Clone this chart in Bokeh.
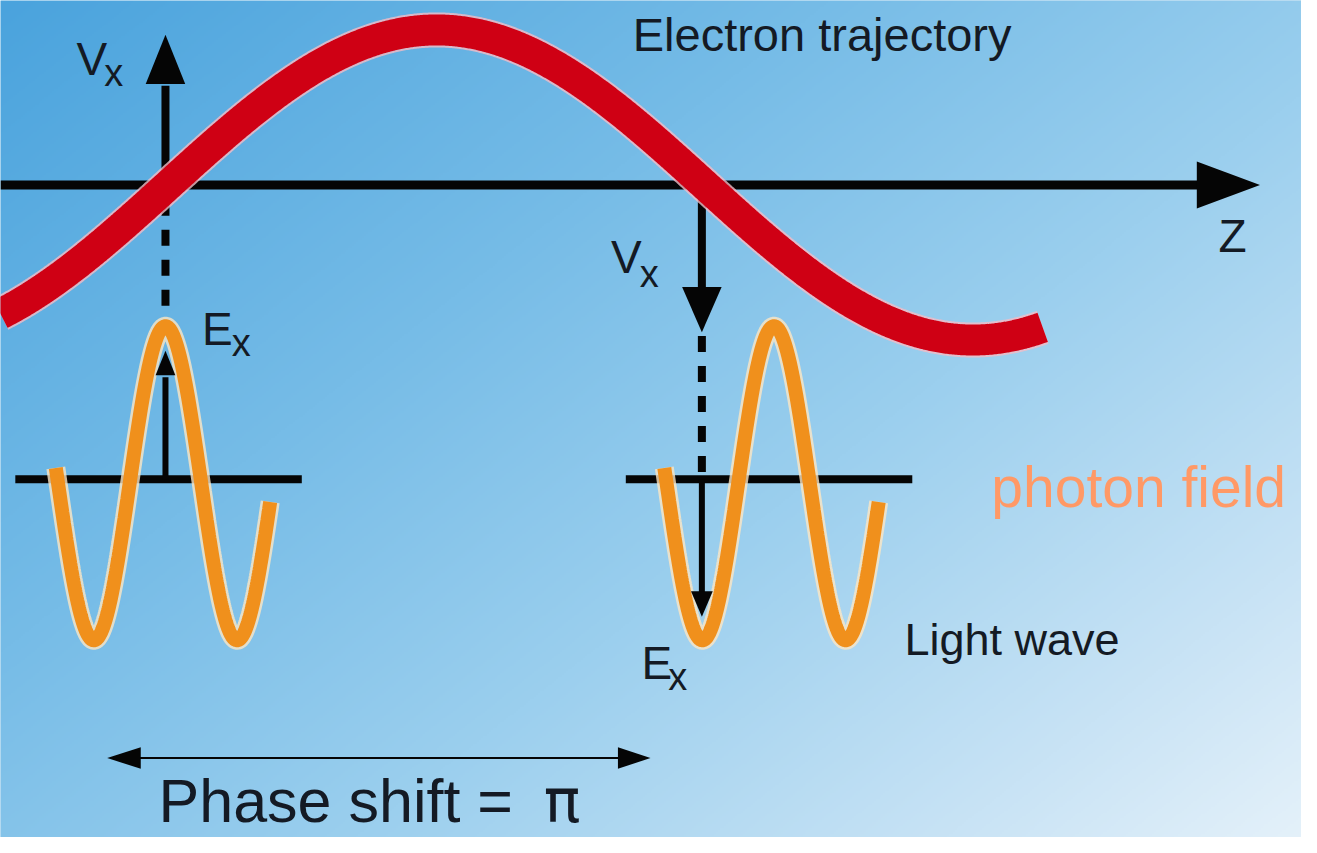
import numpy as np
from bokeh.plotting import figure
from bokeh.models import Range1d
from bokeh.core.properties import value
from bokeh.embed import file_html
from bokeh.resources import INLINE

# ---------------- data (reference pixel units) ----------------
# electron trajectory (red sine)
traj_x_limits = [0, 1055]
traj_zero_x = 170          # upward crossing of the z axis
traj_half_period = 543
traj_center_y = 188
traj_amplitude = 158

# light waves (orange)
wave_peak_x = [167, 783]
wave_center_y = 492
wave_amplitude = 160
wave_length = 145
wave_extent = [-111, 106]  # start / end relative to the peak

# axes lines
z_axis_y = 188
z_axis_x = [0, 1213]
small_axis_y = [488, 488]
small_axis_x0 = [15, 633]
small_axis_x1 = [305, 923]

# arrows: tip, direction, head length, head half-width
arrow_names = ["z", "vx_up", "vx_down", "ex_up", "ex_down", "phase_l", "phase_r"]
arrow_tip_x = [1275, 167, 710, 167, 710, 108, 658]
arrow_tip_y = [188, 35, 338, 357, 628, 772, 772]
arrow_dir = ["right", "up", "down", "up", "down", "left", "right"]
arrow_head_len = [64, 50, 46, 25, 26, 34, 33]
arrow_head_half = [24, 20, 20, 10, 11, 11, 11]

# arrow shafts
shaft_x0 = [167, 710, 167, 710, 140]
shaft_y0 = [188, 188, 488, 488, 772]
shaft_x1 = [167, 710, 167, 710, 627]
shaft_y1 = [87, 294, 384, 604, 772]
shaft_w = [8, 8, 6, 6, 2]

# dashed projection lines
dash_x = [167, 710]
dash_y0 = [203, 342]
dash_y1 = [318, 486]

# texts (x = left edge, y = baseline)
main_labels = ["Electron trajectory", "Z", "Light wave", "Phase shift ="]
main_x = [640, 1233, 915, 160]
main_y = [52, 257, 668, 838]
main_size = [47, 46, 45, 61]
pi_label, pi_x = "π", 550

sym_labels = ["V", "V", "E", "E"]
sym_x = [77, 618, 204, 649]
sym_y = [77, 278, 352, 692]
sub_labels = ["x", "x", "x", "x"]
sub_x = [105, 647, 234, 676]
sub_y = [88, 293, 363, 703]

extra_label = "photon field"
extra_x, extra_y = 1003, 517

# ---------------- figure ----------------
W, H = 1301, 837
X0, X1 = 0, 1317
Y0, Y1 = 0, 853

p = figure(width=W, height=H, x_range=Range1d(X0, X1), y_range=Range1d(Y1, Y0),
           output_backend="svg", toolbar_location=None, min_border=0,
           x_axis_location=None, y_axis_location=None)
p.grid.visible = False
p.outline_line_color = None
p.background_fill_color = "#8cc6ea"
p.border_fill_color = "#8cc6ea"

# background gradient
ny, nx = 427, 659
gx = np.linspace(X0, X1, nx)
gy = np.linspace(Y0, Y1, ny)
GX, GY = np.meshgrid(gx, gy)
t = 0.55 * GX / 1317 + 0.45 * GY / 853
stops_t = [0.0, 0.35, 0.6, 0.85, 1.0]
stops_c = [(74, 163, 221), (118, 188, 231), (155, 207, 238), (200, 227, 245), (228, 241, 250)]
img = np.empty((ny, nx), dtype=np.uint32)
view = img.view(dtype=np.uint8).reshape((ny, nx, 4))
for k in range(3):
    view[..., k] = np.interp(t, stops_t, [c[k] for c in stops_c]).astype(np.uint8)
view[..., 3] = 255
p.image_rgba(image=[img], x=X0, y=Y0, dw=X1 - X0, dh=Y1 - Y0)

# black axes
p.segment(x0=[z_axis_x[0]], y0=[z_axis_y], x1=[z_axis_x[1]], y1=[z_axis_y],
          line_color="#050505", line_width=9, line_cap="butt")
p.segment(x0=small_axis_x0, y0=small_axis_y, x1=small_axis_x1, y1=small_axis_y,
          line_color="#050505", line_width=8, line_cap="butt")

# arrow shafts (Vx and phase)
keep = [0, 1, 4]
p.segment(x0=[shaft_x0[i] for i in keep], y0=[shaft_y0[i] for i in keep],
          x1=[shaft_x1[i] for i in keep], y1=[shaft_y1[i] for i in keep],
          line_color="#050505", line_width=[shaft_w[i] for i in keep], line_cap="butt")

# dashed lines
for dx, a, b in zip(dash_x, dash_y0, dash_y1):
    p.line([dx, dx], [a, b], line_color="#050505", line_width=8,
           line_dash="16 14", line_cap="butt")

# arrow heads
def head(tx, ty, d, L, h):
    if d == "right":
        return [tx, tx - L, tx - L], [ty, ty - h, ty + h]
    if d == "left":
        return [tx, tx + L, tx + L], [ty, ty - h, ty + h]
    if d == "up":
        return [tx, tx - h, tx + h], [ty, ty + L, ty + L]
    return [tx, tx - h, tx + h], [ty, ty - L, ty - L]

hx, hy = [], []
for tx, ty, d, L, h in zip(arrow_tip_x, arrow_tip_y, arrow_dir, arrow_head_len, arrow_head_half):
    a, b = head(tx, ty, d, L, h)
    hx.append(a)
    hy.append(b)
big = [i for i, n in enumerate(arrow_names) if not n.startswith("ex")]
p.patches([hx[i] for i in big], [hy[i] for i in big], fill_color="#050505", line_color=None)

# orange light waves
for px in wave_peak_x:
    wx = np.linspace(px + wave_extent[0], px + wave_extent[1], 400)
    wy = wave_center_y - wave_amplitude * np.cos(2 * np.pi * (wx - px) / wave_length)
    p.line(wx, wy, line_color="#fbe6c4", line_width=19, line_alpha=0.8, line_cap="butt")
    p.line(wx, wy, line_color="#f0901c", line_width=14, line_cap="butt")

# Ex arrows on top of the waves
ex = [i for i, n in enumerate(arrow_names) if n.startswith("ex")]
p.segment(x0=shaft_x0[2:4], y0=shaft_y0[2:4], x1=shaft_x1[2:4], y1=shaft_y1[2:4],
          line_color="#050505", line_width=6, line_cap="butt")
p.patches([hx[i] for i in ex], [hy[i] for i in ex], fill_color="#050505", line_color=None)

# electron trajectory
tx_ = np.linspace(traj_x_limits[0], traj_x_limits[1], 800)
ty_ = traj_center_y - traj_amplitude * np.sin(np.pi * (tx_ - traj_zero_x) / traj_half_period)
p.line(tx_, ty_, line_color="#f4bcc6", line_width=35, line_alpha=0.8, line_cap="butt")
p.line(tx_, ty_, line_color="#cf0014", line_width=31, line_cap="butt")

# texts
dark = "#141a24"
SHIFT = 0.36  # baseline correction, fraction of font size


def label(x, y, s, size, color=dark, fam="Liberation Sans"):
    p.text(x=[x], y=[y], text=[s], text_font=value(fam), text_font_size=f"{size}px",
           text_color=color, text_align="left", text_baseline="alphabetic",
           y_offset=-SHIFT * size)


for s, x, y, sz in zip(main_labels, main_x, main_y, main_size):
    label(x, y, s, sz)
label(pi_x, main_y[3], pi_label, main_size[3], fam="DejaVu Sans")
for s, x, y in zip(sym_labels, sym_x, sym_y):
    label(x, y, s, 46)
for s, x, y in zip(sub_labels, sub_x, sub_y):
    label(x, y, s, 38)
label(extra_x, extra_y, extra_label, 57, "#ff9966")

open("out.html", "w").write(file_html(p, INLINE))
